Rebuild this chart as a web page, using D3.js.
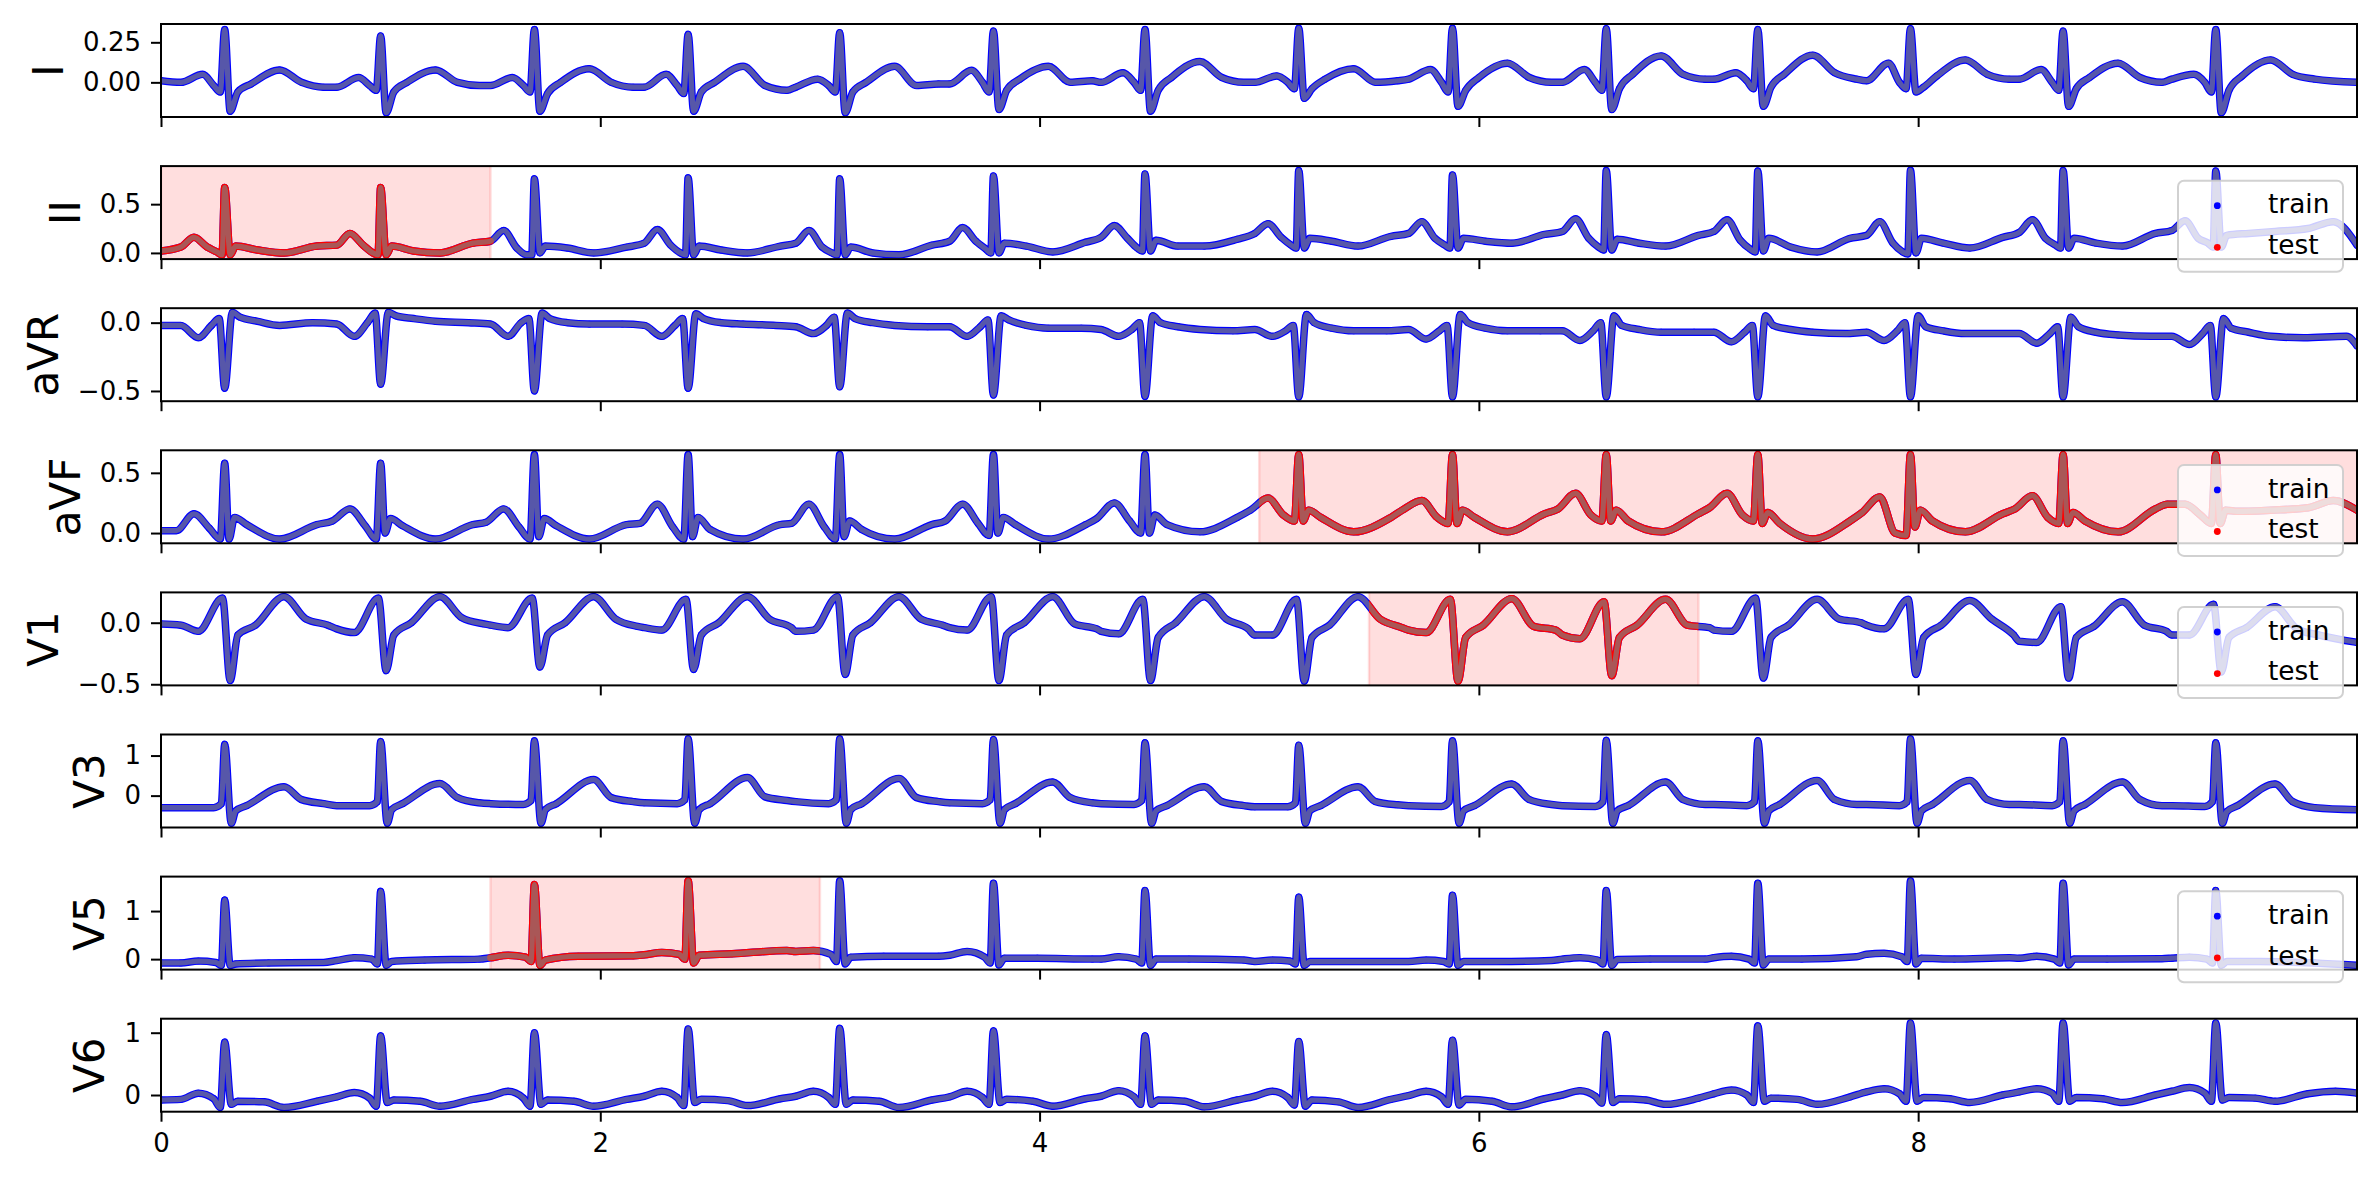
<!DOCTYPE html>
<html><head><meta charset="utf-8">
<script src="https://cdn.jsdelivr.net/npm/d3@7"></script>
<style>body{margin:0;background:#fff;} svg{display:block;}</style>
</head><body>
<svg id="c" width="2379" height="1180"></svg>
<script>
// ---------------- DATA ----------------
const leads = ["I", "II", "aVR", "aVF", "V1", "V3", "V5", "V6"];
const rPeaks = [0.29, 1.0, 1.70, 2.40, 3.09, 3.79, 4.48, 5.18, 5.88, 6.58, 7.27, 7.965, 8.66, 9.355];
const tEnd = 9.998;
const xTicks = [0, 2, 4, 6, 8];

// knot time offsets (s, relative to each R peak) and per-beat values
const offI = [-0.2, -0.1, -0.05, -0.02, 0, 0.025, 0.06, 0.12, 0.25, 0.35, 0.45];
const valsI = [
  [0.0, 0.05, -0.02, -0.06, 0.33, -0.18, -0.06, -0.01, 0.077, 0.0, -0.03],
  [-0.03, 0.03, -0.02, -0.05, 0.29, -0.19, -0.06, 0.0, 0.077, 0.0, -0.02],
  [-0.02, 0.03, -0.02, -0.06, 0.33, -0.18, -0.07, 0.0, 0.085, 0.0, -0.03],
  [-0.03, 0.05, -0.02, -0.07, 0.30, -0.18, -0.06, 0.0, 0.10, -0.02, -0.05],
  [-0.03, 0.02, -0.02, -0.06, 0.31, -0.19, -0.06, 0.0, 0.10, -0.02, -0.01],
  [-0.01, 0.075, 0.0, -0.06, 0.32, -0.17, -0.05, 0.02, 0.10, 0.0, 0.01],
  [0.0, 0.06, 0.0, -0.05, 0.33, -0.18, -0.05, 0.03, 0.13, 0.03, 0.0],
  [0.0, 0.04, 0.0, -0.04, 0.338, -0.10, -0.04, 0.02, 0.085, 0.0, 0.01],
  [0.02, 0.08, 0.0, -0.06, 0.338, -0.15, -0.05, 0.03, 0.12, 0.03, 0.0],
  [0.0, 0.08, 0.0, -0.05, 0.335, -0.17, -0.04, 0.05, 0.165, 0.05, 0.02],
  [0.02, 0.06, 0.01, -0.04, 0.33, -0.15, -0.03, 0.05, 0.17, 0.06, 0.02],
  [0.01, 0.12, 0.0, -0.04, 0.335, -0.06, -0.03, 0.04, 0.14, 0.05, 0.02],
  [0.02, 0.08, 0.0, -0.05, 0.32, -0.15, -0.04, 0.03, 0.12, 0.03, 0.0],
  [0.02, 0.05, 0.0, -0.06, 0.33, -0.19, -0.05, 0.04, 0.14, 0.05, 0.02]
];
const edgeI = [[0, 0.01], [9.998, 0.0]];

const offII = [-0.2, -0.14, -0.08, -0.035, -0.012, 0, 0.025, 0.05, 0.15, 0.27, 0.42];
const valsII = [
  [0.06, 0.16, 0.06, 0.01, -0.02, 0.67, -0.02, 0.07, 0.03, 0.0, 0.07],
  [0.08, 0.2, 0.08, 0.0, -0.02, 0.67, -0.02, 0.07, 0.02, 0.0, 0.10],
  [0.12, 0.23, 0.05, -0.02, -0.02, 0.76, 0.0, 0.07, 0.05, 0.0, 0.06],
  [0.1, 0.24, 0.08, 0.0, -0.02, 0.77, -0.02, 0.07, 0.03, 0.0, 0.07],
  [0.1, 0.23, 0.06, 0.0, -0.02, 0.76, -0.02, 0.06, 0.0, -0.02, 0.08],
  [0.12, 0.26, 0.12, 0.04, 0.0, 0.79, 0.0, 0.1, 0.07, 0.01, 0.11],
  [0.16, 0.28, 0.15, 0.05, 0.02, 0.81, 0.02, 0.13, 0.07, 0.07, 0.14],
  [0.2, 0.3, 0.16, 0.08, 0.05, 0.845, 0.05, 0.15, 0.12, 0.07, 0.17],
  [0.2, 0.32, 0.15, 0.08, 0.05, 0.80, 0.05, 0.15, 0.12, 0.1, 0.19],
  [0.22, 0.35, 0.15, 0.06, 0.03, 0.845, 0.03, 0.14, 0.10, 0.07, 0.18],
  [0.22, 0.34, 0.13, 0.04, 0.01, 0.84, 0.02, 0.15, 0.06, 0.01, 0.15],
  [0.18, 0.32, 0.1, 0.01, -0.01, 0.847, 0.0, 0.15, 0.1, 0.05, 0.16],
  [0.21, 0.34, 0.15, 0.08, 0.05, 0.845, 0.05, 0.15, 0.1, 0.07, 0.2],
  [0.23, 0.33, 0.15, 0.1, 0.06, 0.84, 0.06, 0.18, 0.2, 0.22, 0.25]
];
const edgeII = [[0, 0.02], [9.89, 0.32], [9.998, 0.08]];

const offAVR = [-0.2, -0.12, -0.06, -0.025, 0, 0.035, 0.07, 0.15, 0.25, 0.4];
const valsAVR = [
  [-0.02, -0.11, -0.02, 0.03, -0.48, 0.075, 0.04, 0.01, -0.02, 0.0],
  [-0.01, -0.1, 0.0, 0.07, -0.45, 0.075, 0.05, 0.03, 0.01, 0.0],
  [-0.01, -0.1, 0.0, 0.03, -0.5, 0.07, 0.03, 0.0, -0.01, -0.01],
  [-0.02, -0.1, -0.02, 0.03, -0.48, 0.065, 0.03, 0.0, -0.01, -0.02],
  [-0.03, -0.08, -0.02, 0.04, -0.47, 0.07, 0.03, 0.0, -0.02, -0.03],
  [-0.03, -0.1, -0.03, 0.02, -0.53, 0.05, 0.02, -0.02, -0.04, -0.04],
  [-0.05, -0.1, -0.05, 0.0, -0.54, 0.05, 0.0, -0.03, -0.05, -0.06],
  [-0.05, -0.1, -0.06, -0.02, -0.544, 0.06, 0.0, -0.04, -0.06, -0.06],
  [-0.05, -0.12, -0.06, -0.02, -0.544, 0.06, 0.0, -0.04, -0.06, -0.06],
  [-0.06, -0.13, -0.06, 0.0, -0.544, 0.05, -0.02, -0.05, -0.07, -0.07],
  [-0.07, -0.14, -0.07, -0.02, -0.544, 0.05, -0.02, -0.05, -0.07, -0.08],
  [-0.07, -0.13, -0.06, 0.0, -0.544, 0.05, -0.03, -0.06, -0.08, -0.08],
  [-0.08, -0.15, -0.08, -0.03, -0.544, 0.04, -0.03, -0.07, -0.09, -0.1],
  [-0.1, -0.16, -0.08, -0.02, -0.544, 0.03, -0.04, -0.07, -0.1, -0.11]
];
const edgeAVR = [[0, -0.02], [9.95, -0.1], [9.998, -0.17]];

const offAVF = [-0.22, -0.14, -0.07, -0.02, 0, 0.02, 0.045, 0.1, 0.25, 0.42];
const valsAVF = [
  [0.02, 0.16, 0.04, -0.05, 0.58, -0.05, 0.13, 0.07, -0.05, 0.07],
  [0.1, 0.2, 0.06, -0.05, 0.58, 0.0, 0.12, 0.06, -0.05, 0.07],
  [0.09, 0.2, 0.05, -0.05, 0.652, -0.03, 0.12, 0.06, -0.05, 0.07],
  [0.08, 0.24, 0.05, -0.05, 0.652, -0.03, 0.13, 0.03, -0.05, 0.07],
  [0.08, 0.24, 0.05, -0.05, 0.652, -0.03, 0.1, 0.03, -0.05, 0.07],
  [0.1, 0.24, 0.08, -0.02, 0.652, 0.0, 0.13, 0.07, -0.05, 0.07],
  [0.12, 0.25, 0.1, 0.0, 0.652, 0.0, 0.15, 0.07, 0.01, 0.13],
  [0.19, 0.29, 0.15, 0.1, 0.652, 0.1, 0.19, 0.13, 0.01, 0.13],
  [0.2, 0.27, 0.13, 0.08, 0.652, 0.08, 0.19, 0.13, 0.01, 0.16],
  [0.2, 0.33, 0.15, 0.1, 0.652, 0.1, 0.19, 0.1, 0.01, 0.16],
  [0.21, 0.33, 0.15, 0.1, 0.652, 0.08, 0.17, 0.08, -0.05, 0.1],
  [0.17, 0.3, 0.0, -0.02, 0.652, 0.05, 0.19, 0.1, 0.01, 0.16],
  [0.2, 0.31, 0.13, 0.08, 0.652, 0.08, 0.17, 0.1, 0.01, 0.2],
  [0.24, 0.24, 0.15, 0.08, 0.652, 0.08, 0.19, 0.18, 0.19, 0.21]
];
const edgeAVF = [[0, 0.02], [9.89, 0.27], [9.998, 0.19]];

const offV1 = [-0.2, -0.12, -0.01, 0.025, 0.06, 0.14, 0.27, 0.37, 0.47];
const valsV1 = [
  [-0.02, -0.07, 0.20, -0.47, -0.1, -0.02, 0.212, 0.03, -0.02],
  [-0.05, -0.08, 0.20, -0.39, -0.1, 0.0, 0.212, 0.04, -0.01],
  [-0.02, -0.04, 0.20, -0.36, -0.1, 0.0, 0.212, 0.03, -0.03],
  [-0.04, -0.06, 0.19, -0.38, -0.1, 0.0, 0.212, 0.03, -0.04],
  [-0.07, -0.06, 0.212, -0.42, -0.1, 0.0, 0.212, 0.03, -0.02],
  [-0.04, -0.06, 0.212, -0.47, -0.1, 0.0, 0.212, -0.01, -0.05],
  [-0.07, -0.09, 0.19, -0.47, -0.12, 0.0, 0.212, 0.03, -0.05],
  [-0.1, -0.1, 0.19, -0.475, -0.12, -0.02, 0.212, 0.03, -0.04],
  [-0.06, -0.08, 0.19, -0.475, -0.12, -0.02, 0.195, -0.03, -0.06],
  [-0.1, -0.13, 0.17, -0.43, -0.12, -0.02, 0.19, -0.02, -0.04],
  [-0.06, -0.07, 0.2, -0.45, -0.12, -0.02, 0.19, 0.03, 0.0],
  [-0.02, -0.05, 0.19, -0.42, -0.12, -0.02, 0.18, 0.03, -0.1],
  [-0.15, -0.16, 0.13, -0.45, -0.12, -0.03, 0.17, -0.02, -0.07],
  [-0.1, -0.1, 0.15, -0.4, -0.12, -0.04, 0.13, -0.05, -0.1]
];
const edgeV1 = [[0, -0.01], [9.998, -0.16]];

const offV3 = [-0.2, -0.05, -0.015, 0, 0.03, 0.05, 0.1, 0.27, 0.35, 0.45];
const valsV3 = [
  [-0.3, -0.3, -0.2, 1.28, -0.69, -0.38, -0.25, 0.22, -0.1, -0.2],
  [-0.25, -0.25, -0.15, 1.35, -0.69, -0.35, -0.2, 0.3, -0.05, -0.18],
  [-0.2, -0.22, -0.12, 1.37, -0.69, -0.35, -0.2, 0.4, -0.05, -0.15],
  [-0.18, -0.2, -0.1, 1.42, -0.69, -0.35, -0.2, 0.45, -0.03, -0.12],
  [-0.15, -0.2, -0.1, 1.42, -0.69, -0.35, -0.2, 0.43, -0.05, -0.15],
  [-0.18, -0.2, -0.1, 1.4, -0.69, -0.35, -0.2, 0.34, -0.05, -0.18],
  [-0.2, -0.22, -0.12, 1.32, -0.69, -0.38, -0.25, 0.22, -0.15, -0.25],
  [-0.28, -0.28, -0.18, 1.26, -0.69, -0.38, -0.25, 0.22, -0.15, -0.23],
  [-0.25, -0.27, -0.15, 1.37, -0.69, -0.38, -0.25, 0.29, -0.1, -0.22],
  [-0.25, -0.27, -0.15, 1.38, -0.69, -0.38, -0.25, 0.34, -0.1, -0.22],
  [-0.22, -0.25, -0.15, 1.37, -0.69, -0.38, -0.22, 0.38, -0.1, -0.22],
  [-0.22, -0.25, -0.15, 1.42, -0.69, -0.38, -0.22, 0.38, -0.1, -0.22],
  [-0.22, -0.25, -0.15, 1.37, -0.69, -0.38, -0.22, 0.34, -0.1, -0.25],
  [-0.25, -0.27, -0.15, 1.32, -0.69, -0.4, -0.25, 0.29, -0.15, -0.3]
];
const edgeV3 = [[0, -0.3], [9.998, -0.35]];

const offV5 = [-0.2, -0.12, -0.04, -0.015, 0, 0.025, 0.05, 0.2, 0.45];
const valsV5 = [
  [-0.08, -0.04, -0.07, -0.13, 1.23, -0.13, -0.1, -0.08, -0.07],
  [-0.03, 0.03, 0.0, -0.1, 1.41, -0.13, -0.05, -0.02, 0.0],
  [0.03, 0.08, 0.04, -0.05, 1.55, -0.13, -0.02, 0.06, 0.07],
  [0.09, 0.14, 0.1, 0.0, 1.629, -0.08, 0.08, 0.11, 0.18],
  [0.16, 0.18, 0.1, -0.05, 1.629, -0.1, 0.04, 0.06, 0.06],
  [0.08, 0.16, 0.04, -0.08, 1.58, -0.12, 0.02, 0.02, 0.0],
  [0.0, 0.05, 0.0, -0.08, 1.43, -0.13, 0.0, 0.0, -0.02],
  [-0.05, -0.02, -0.04, -0.1, 1.29, -0.13, -0.05, -0.05, -0.05],
  [-0.05, -0.02, -0.05, -0.1, 1.33, -0.13, -0.05, -0.05, -0.03],
  [0.0, 0.03, -0.02, -0.1, 1.43, -0.13, -0.01, 0.0, 0.0],
  [0.03, 0.06, 0.0, -0.08, 1.58, -0.12, 0.0, 0.0, 0.05],
  [0.1, 0.12, 0.05, -0.05, 1.629, -0.1, 0.02, 0.0, 0.03],
  [0.02, 0.06, 0.0, -0.08, 1.58, -0.12, 0.0, 0.0, 0.01],
  [0.02, 0.04, 0.0, -0.08, 1.43, -0.13, -0.05, -0.05, -0.08]
];
const edgeV5 = [[0, -0.08], [9.998, -0.13]];

const offV6 = [-0.2, -0.12, -0.05, -0.02, 0, 0.03, 0.06, 0.18, 0.27, 0.42];
const valsV6 = [
  [-0.07, 0.03, -0.06, -0.2, 0.85, -0.15, -0.1, -0.11, -0.2, -0.1],
  [-0.03, 0.04, -0.05, -0.18, 0.95, -0.12, -0.08, -0.1, -0.18, -0.07],
  [-0.02, 0.06, -0.05, -0.18, 1.0, -0.15, -0.08, -0.1, -0.18, -0.07],
  [-0.02, 0.06, -0.04, -0.17, 1.06, -0.12, -0.07, -0.09, -0.17, -0.06],
  [-0.02, 0.06, -0.04, -0.15, 1.07, -0.15, -0.08, -0.1, -0.2, -0.08],
  [-0.03, 0.06, -0.04, -0.15, 1.03, -0.12, -0.07, -0.1, -0.18, -0.06],
  [-0.02, 0.07, -0.03, -0.15, 0.95, -0.15, -0.08, -0.1, -0.19, -0.08],
  [-0.02, 0.06, -0.04, -0.16, 0.86, -0.18, -0.08, -0.11, -0.2, -0.07],
  [-0.01, 0.06, -0.03, -0.15, 0.88, -0.16, -0.07, -0.1, -0.19, -0.06],
  [0.0, 0.07, -0.02, -0.13, 0.97, -0.12, -0.06, -0.08, -0.15, -0.05],
  [0.02, 0.08, 0.0, -0.12, 1.11, -0.1, -0.05, -0.07, -0.15, -0.03],
  [0.05, 0.1, 0.02, -0.1, 1.157, -0.1, -0.04, -0.06, -0.12, 0.0],
  [0.05, 0.1, 0.03, -0.1, 1.157, -0.1, -0.04, -0.06, -0.12, 0.0],
  [0.06, 0.12, 0.03, -0.1, 1.157, -0.08, -0.04, -0.05, -0.1, 0.02]
];
const edgeV6 = [[0, -0.08], [9.9, 0.06], [9.998, 0.03]];

// test windows (s)
const testII = [0, 1.5];
const testAVF = [5.0, 10.0];
const testV1 = [5.5, 7.0];
const testV5 = [1.5, 3.0];

// y tick labels per lead
const yTicksI = [0, 0.25];
const yTicksII = [0, 0.5];
const yTicksAVR = [-0.5, 0];
const yTicksAVF = [0, 0.5];
const yTicksV1 = [-0.5, 0];
const yTicksV3 = [0, 1];
const yTicksV5 = [0, 1];
const yTicksV6 = [0, 1];

const legendLabels = ["train", "test"];

// ---------------- TABLE ----------------
const table = [
  {name: "I", off: offI, vals: valsI, edge: edgeI, test: null, ticks: yTicksI, fmt: ".2f"},
  {name: "II", off: offII, vals: valsII, edge: edgeII, test: testII, ticks: yTicksII, fmt: ".1f"},
  {name: "aVR", off: offAVR, vals: valsAVR, edge: edgeAVR, test: null, ticks: yTicksAVR, fmt: ".1f"},
  {name: "aVF", off: offAVF, vals: valsAVF, edge: edgeAVF, test: testAVF, ticks: yTicksAVF, fmt: ".1f"},
  {name: "V1", off: offV1, vals: valsV1, edge: edgeV1, test: testV1, ticks: yTicksV1, fmt: ".1f"},
  {name: "V3", off: offV3, vals: valsV3, edge: edgeV3, test: null, ticks: yTicksV3, fmt: "d"},
  {name: "V5", off: offV5, vals: valsV5, edge: edgeV5, test: testV5, ticks: yTicksV5, fmt: "d"},
  {name: "V6", off: offV6, vals: valsV6, edge: edgeV6, test: null, ticks: yTicksV6, fmt: "d"}
];

function knots(L) {
  const pts = [];
  L.vals.forEach((row, b) => row.forEach((v, k) => pts.push([rPeaks[b] + L.off[k], v])));
  L.edge.forEach(p => pts.push(p));
  return pts.filter(p => p[0] >= 0 && p[0] <= tEnd).sort((a, b) => a[0] - b[0]);
}

// ---------------- LAYOUT ----------------
const svg = d3.select("#c");
const left = 161, right = 2357, top0 = 24, step = 142.1, ph = 93;
const FONT = "DejaVu Sans, Liberation Sans, sans-serif";
const x = d3.scaleLinear().domain([0, tEnd]).range([left, right]);
const defs = svg.append("defs");

table.forEach((L, i) => {
  const top = top0 + step * i;
  const pts = knots(L);
  const ext = d3.extent(pts, d => d[1]);
  const m = (ext[1] - ext[0]) * 0.05;
  const y = d3.scaleLinear().domain([ext[0] - m, ext[1] + m]).range([top + ph, top]);

  defs.append("clipPath").attr("id", "clip" + i)
    .append("rect").attr("x", left).attr("y", top).attr("width", right - left).attr("height", ph);
  const g = svg.append("g").attr("clip-path", `url(#clip${i})`);

  const inTest = t => L.test && t >= L.test[0] && t <= L.test[1];

  if (L.test) {
    const x0 = x(L.test[0]), x1 = x(Math.min(L.test[1], tEnd + 0.05));
    g.append("rect").attr("x", x0).attr("y", top - 5).attr("width", x1 - x0).attr("height", ph + 10)
      .attr("fill", "#ff0000").attr("fill-opacity", 0.13)
      .attr("stroke", "#ff0000").attr("stroke-opacity", 0.13).attr("stroke-width", 2.5);
    defs.append("clipPath").attr("id", "tclip" + i)
      .append("rect").attr("x", x0).attr("y", top - 20).attr("width", x1 - x0).attr("height", ph + 40);
  }

  const line = d3.line().x(d => x(d[0])).y(d => y(d[1])).curve(d3.curveMonotoneX);
  g.append("path").attr("d", line(pts)).attr("fill", "none").attr("stroke", "#0000ff")
    .attr("stroke-width", 7.5).attr("stroke-linejoin", "round").attr("stroke-linecap", "round");
  if (L.test) {
    g.append("g").attr("clip-path", `url(#tclip${i})`)
      .append("path").attr("d", line(pts)).attr("fill", "none").attr("stroke", "#ff0000")
      .attr("stroke-width", 7.5).attr("stroke-linejoin", "round").attr("stroke-linecap", "round");
  }
  g.selectAll("circle.pt").data(pts).join("circle").attr("class", "pt")
    .attr("cx", d => x(d[0])).attr("cy", d => y(d[1])).attr("r", 3.4)
    .attr("fill", d => inTest(d[0]) ? "#ff0000" : "#0000ff");
  g.append("path").attr("d", line(pts)).attr("fill", "none").attr("stroke", "#808080")
    .attr("stroke-opacity", 0.68).attr("stroke-width", 5.2)
    .attr("stroke-linejoin", "round").attr("stroke-linecap", "round");

  // spines
  svg.append("rect").attr("x", left).attr("y", top).attr("width", right - left).attr("height", ph)
    .attr("fill", "none").attr("stroke", "#000").attr("stroke-width", 2);

  // y axis
  const ya = svg.append("g").attr("transform", `translate(${left},0)`)
    .call(d3.axisLeft(y).tickValues(L.ticks).tickFormat(d3.format(L.fmt)).tickSize(10).tickPadding(10).tickSizeOuter(0));
  ya.select(".domain").remove();
  ya.selectAll("line").attr("stroke-width", 2);
  ya.selectAll("text").attr("font-family", FONT).attr("font-size", 26).attr("fill", "#000");

  // x axis
  const xa = svg.append("g").attr("transform", `translate(0,${top + ph})`)
    .call(d3.axisBottom(x).tickValues(xTicks).tickFormat(d3.format("d")).tickSize(10).tickPadding(12).tickSizeOuter(0));
  xa.select(".domain").remove();
  xa.selectAll("line").attr("stroke-width", 2);
  if (i < table.length - 1) xa.selectAll("text").remove();
  else xa.selectAll("text").attr("font-family", FONT).attr("font-size", 26).attr("fill", "#000");

  // lead label
  const bb = ya.node().getBBox();
  const lx = left + bb.x - 20, ly = top + ph / 2;
  svg.append("text").attr("x", lx).attr("y", ly).attr("transform", `rotate(-90,${lx},${ly})`)
    .attr("text-anchor", "middle").attr("font-family", FONT).attr("font-size", 42).text(L.name);

  // legend
  if (L.test) {
    const lg = svg.append("g");
    lg.append("rect").attr("x", 2178).attr("y", top + 14.6).attr("width", 165).attr("height", 91)
      .attr("rx", 6).attr("fill", "#fff").attr("fill-opacity", 0.8)
      .attr("stroke", "#cccccc").attr("stroke-opacity", 0.9).attr("stroke-width", 2);
    const colors = ["#0000ff", "#ff0000"];
    legendLabels.forEach((lab, j) => {
      lg.append("circle").attr("cx", 2217.3).attr("cy", top + 39.6 + j * 41.6).attr("r", 3.4).attr("fill", colors[j]);
      lg.append("text").attr("x", 2268).attr("y", top + 47.2 + j * 40.7)
        .attr("font-family", FONT).attr("font-size", 26.4).attr("fill", "#000").text(lab);
    });
  }
});
</script>
</body></html>
